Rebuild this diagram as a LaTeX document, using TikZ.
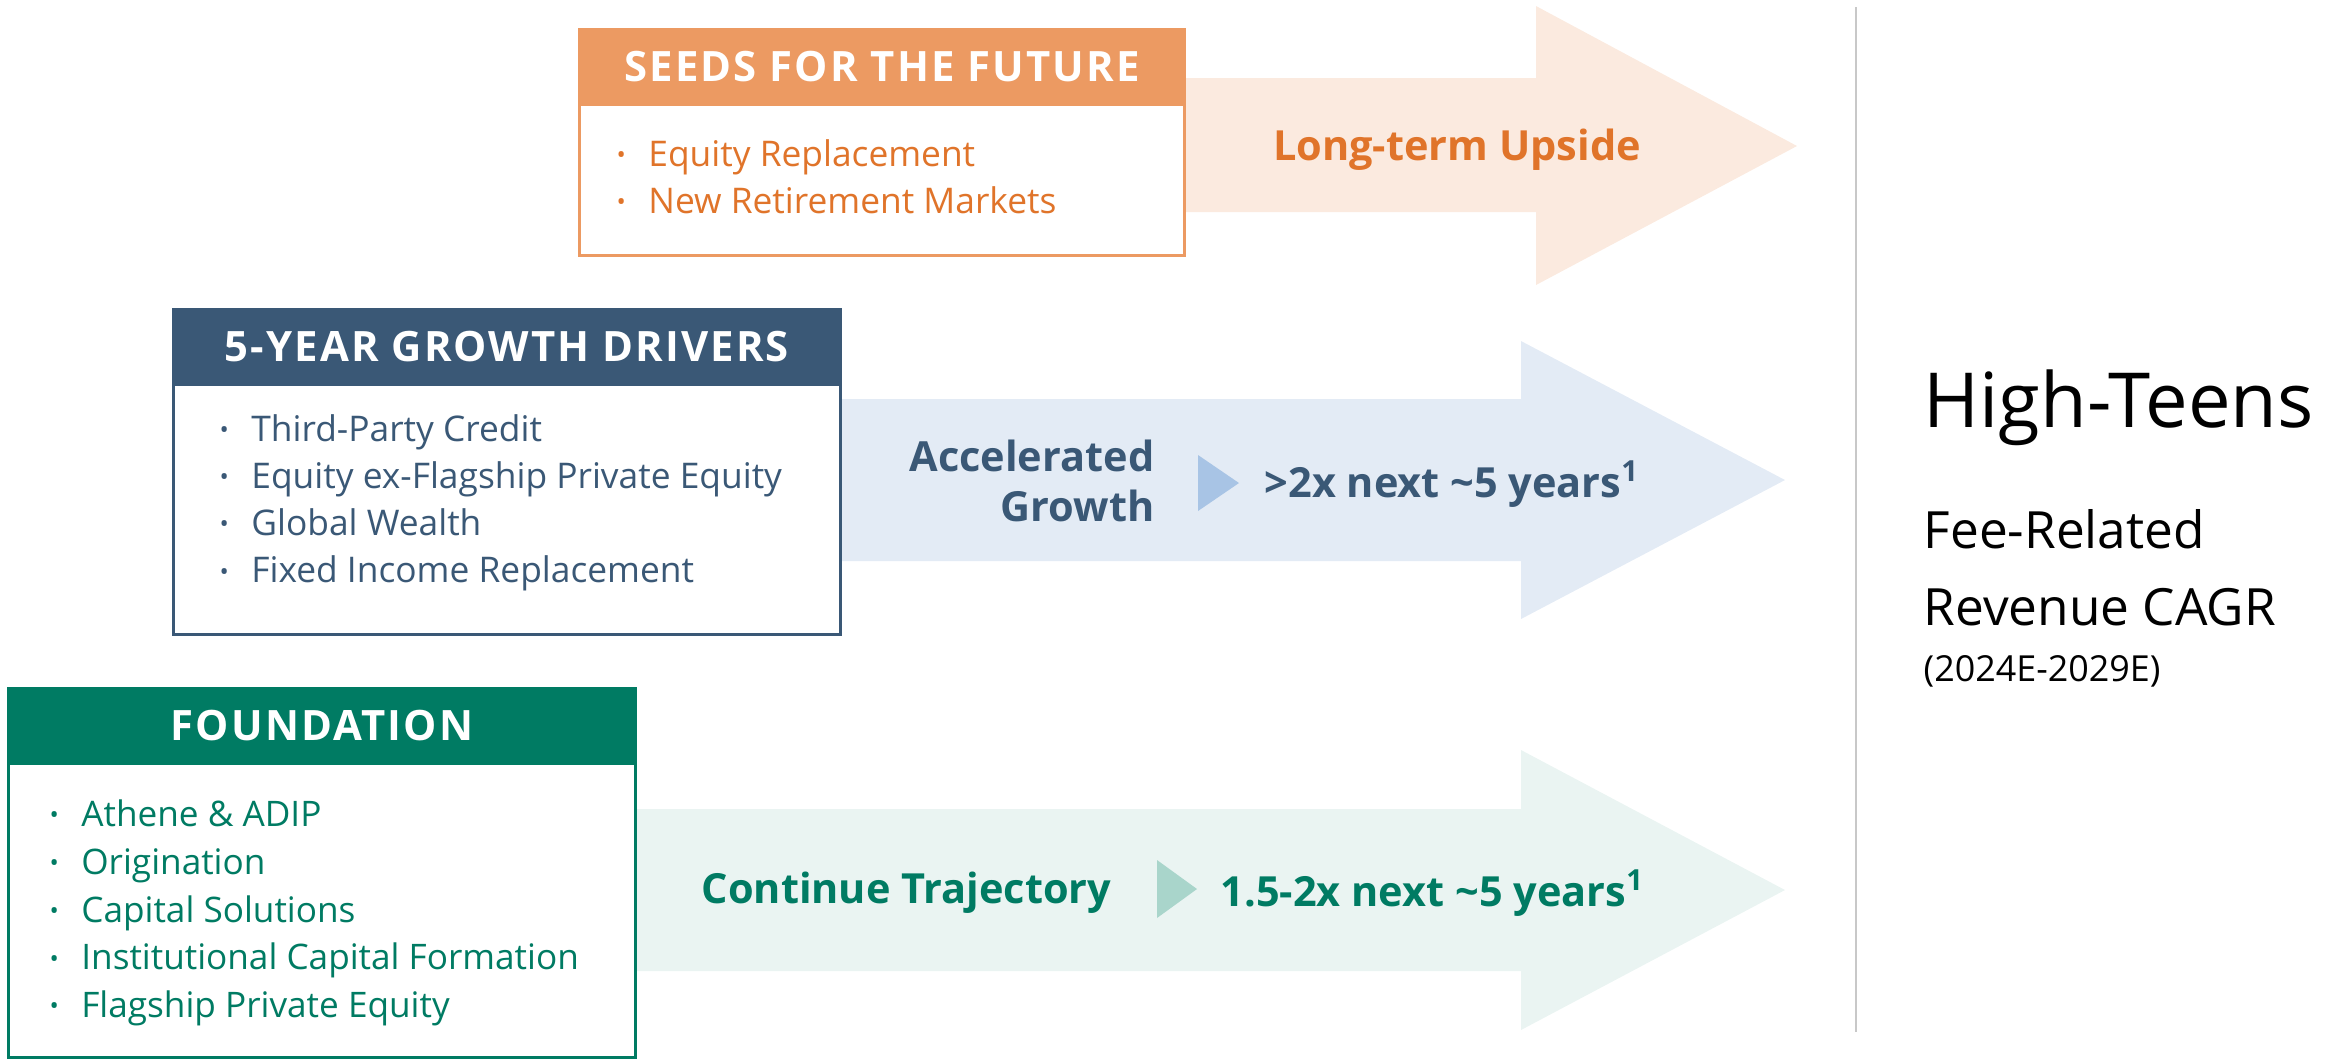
\documentclass[tikz,border=0pt]{standalone}
\usepackage{fontspec}
\setmainfont{Open Sans}
\usetikzlibrary{positioning}
\definecolor{pdOrange}{HTML}{EC9A62}
\definecolor{pdOrangeText}{HTML}{E0742A}
\definecolor{pdOrangeBg}{HTML}{FBEADF}
\definecolor{pdBlue}{HTML}{3A5876}
\definecolor{pdBlueBg}{HTML}{E3EBF5}
\definecolor{pdBlueTri}{HTML}{A8C4E5}
\definecolor{pdGreen}{HTML}{007B63}
\definecolor{pdGreenBg}{HTML}{EAF4F2}
\definecolor{pdGreenTri}{HTML}{A9D5CB}
\definecolor{pdGrey}{HTML}{C8C8C8}
\newcommand{\pdItem}[1]{\makebox[9pt][l]{\raisebox{0.15ex}{\scriptsize\textbullet}}#1}
\tikzset{
  pdhead/.style={rectangle, draw=#1, fill=#1, line width=0.8pt, text=white,
    minimum height=0.76cm, inner sep=0pt,
    font=\fontsize{11.9}{14}\selectfont\bfseries\addfontfeature{LetterSpace=5}},
  pdbody/.style={rectangle, draw=#1, line width=0.8pt, fill=white, inner sep=0pt},
  pdlist/.style={anchor=west, inner sep=0pt, align=left, text=#1,
    font=\fontsize{10.05}{13.4}\selectfont},
  pdlabel/.style={inner sep=0pt, text=#1, font=\fontsize{11.8}{14.2}\selectfont\bfseries},
  pdside/.style={anchor=west, inner sep=0pt}
}
\begin{document}
\begin{tikzpicture}[x=0.01cm, y=-0.01cm]
  \useasboundingbox (0,0) rectangle (2338,1059);
  % arrows behind the boxes
  \fill[pdOrangeBg] (1185,78) -- (1536,78) -- (1536,6) -- (1797,146)
    -- (1536,285) -- (1536,212) -- (1185,212) -- cycle;
  \fill[pdBlueBg] (841,399) -- (1521,399) -- (1521,341) -- (1785,480)
    -- (1521,619) -- (1521,561) -- (841,561) -- cycle;
  \fill[pdGreenBg] (636,809) -- (1521,809) -- (1521,750) -- (1785,890)
    -- (1521,1030) -- (1521,971) -- (636,971) -- cycle;
  % seeds
  \node[pdbody=pdOrange, minimum width=6.05cm, minimum height=1.51cm] (seedsBody) at (882,180) {};
  \node[pdhead=pdOrange, minimum width=6.05cm] (seedsHead) at (882,67) {SEEDS FOR THE FUTURE};
  \node[pdlist=pdOrangeText] (seedsList) at (616,177)
    {\pdItem{Equity Replacement}\\\pdItem{New Retirement Markets}};
  \node[pdlabel=pdOrangeText] (seedsLabel) at (1457,150) {Long-term Upside};
  % growth drivers
  \node[pdbody=pdBlue, minimum width=6.67cm, minimum height=2.51cm] (growthBody) at (507,509) {};
  \node[pdhead=pdBlue, minimum width=6.67cm] (growthHead) at (507,347) {5-YEAR GROWTH DRIVERS};
  \node[pdlist=pdBlue] (growthList) at (219,503)
    {\pdItem{Third-Party Credit}\\\pdItem{Equity ex-Flagship Private Equity}\\
     \pdItem{Global Wealth}\\\pdItem{Fixed Income Replacement}};
  \node[pdlabel=pdBlue, align=right, anchor=east] (growthLabel) at (1155,481) {Accelerated\\Growth};
  \fill[pdBlueTri] (1198,455) -- (1239,483) -- (1198,511) -- cycle;
  \node[pdlabel=pdBlue, anchor=west] (growthRate) at (1264,484) {>2x next \textasciitilde5 years\textsuperscript{1}};
  % foundation
  \node[pdbody=pdGreen, minimum width=6.27cm, minimum height=2.95cm] (baseBody) at (322,910) {};
  \node[pdhead=pdGreen, minimum width=6.27cm] (baseHead) at (322,726) {FOUNDATION};
  \node[pdlist=pdGreen, font=\fontsize{10}{13.6}\selectfont] (baseList) at (49,913)
    {\pdItem{Athene \& ADIP}\\\pdItem{Origination}\\\pdItem{Capital Solutions}\\
     \pdItem{Institutional Capital Formation}\\\pdItem{Flagship Private Equity}};
  \node[pdlabel=pdGreen, anchor=east] (baseLabel) at (1112,893) {Continue Trajectory};
  \fill[pdGreenTri] (1157,860) -- (1197,889) -- (1157,918) -- cycle;
  \node[pdlabel=pdGreen, anchor=west] (baseRate) at (1220,893) {1.5-2x next \textasciitilde5 years\textsuperscript{1}};
  % result
  \draw[pdGrey, line width=0.6pt] (1856,7) -- (1856,1032);
  \node[pdside, font=\fontsize{21.6}{26}\selectfont] (teens) at (1923,408) {High-Teens};
  \node[pdside, font=\fontsize{14.6}{22}\selectfont, align=left] (fre) at (1923,568) {Fee-Related\\Revenue CAGR};
  \node[pdside, font=\fontsize{10.2}{12}\selectfont] (years) at (1923,671) {(2024E-2029E)};
\end{tikzpicture}
\end{document}
